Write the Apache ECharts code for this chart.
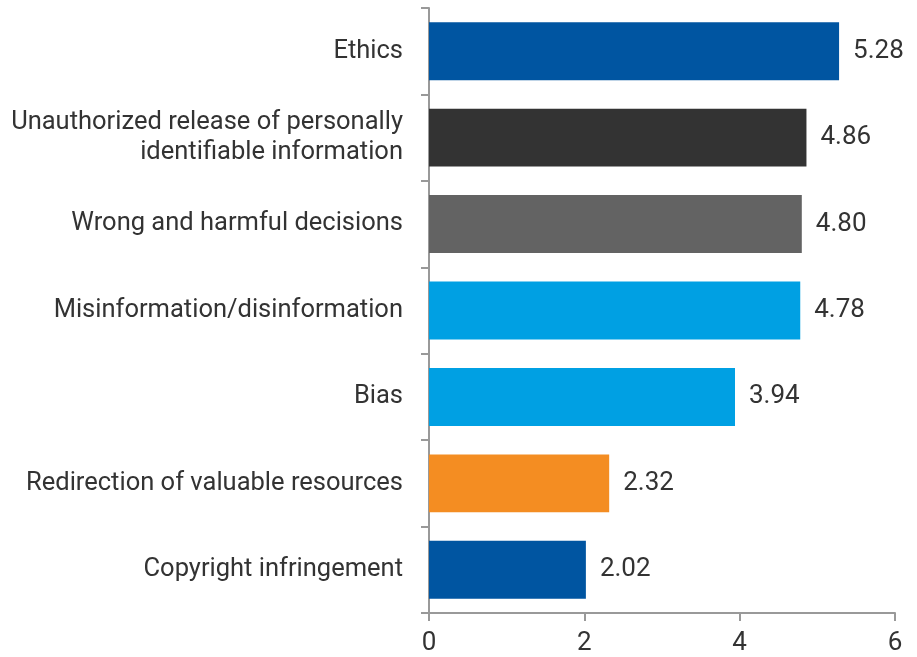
<!DOCTYPE html>
<html>
<head>
<meta charset="utf-8">
<script src="https://cdn.jsdelivr.net/npm/echarts@6/dist/echarts.min.js"></script>
<style>
  html, body { margin: 0; padding: 0; background: #fff; }
  #main { width: 917px; height: 657px; }
</style>
</head>
<body>
<div id="main"></div>
<script>
// data, top to bottom
var categories = [
  'Ethics',
  'Unauthorized release of personally\nidentifiable information',
  'Wrong and harmful decisions',
  'Misinformation/disinformation',
  'Bias',
  'Redirection of valuable resources',
  'Copyright infringement'
];
var values = [5.28, 4.86, 4.80, 4.78, 3.94, 2.32, 2.02];
var barColors = ['#0055a1', '#333333', '#636363', '#00a0e3', '#00a0e3', '#f48d22', '#0055a1'];
var xTicks = [0, 2, 4, 6];

var chart = echarts.init(document.getElementById('main'));
var font = 'Roboto, "Noto Sans", sans-serif';

chart.setOption({
  animation: false,
  grid: { left: 429, right: 22, top: 8, bottom: 44, containLabel: false },
  xAxis: {
    type: 'value',
    min: xTicks[0],
    max: xTicks[xTicks.length - 1],
    interval: 2,
    axisLine: { show: true, lineStyle: { color: '#999', width: 2 } },
    axisTick: { show: true, length: 8, lineStyle: { color: '#999', width: 2 } },
    splitLine: { show: false },
    axisLabel: { color: '#333', fontSize: 26, fontFamily: font, margin: 17 }
  },
  yAxis: {
    type: 'category',
    inverse: true,
    data: categories,
    axisLine: { show: true, lineStyle: { color: '#999', width: 2 } },
    axisTick: { show: true, length: 8, lineStyle: { color: '#999', width: 2 } },
    axisLabel: { color: '#333', fontSize: 25.5, fontFamily: font, margin: 26, align: 'right', lineHeight: 30, padding: [3, 0, 0, 0] }
  },
  series: [{
    type: 'bar',
    barCategoryGap: '33%',
    data: values.map(function (v, i) {
      return { value: v, itemStyle: { color: barColors[i] } };
    }),
    label: {
      show: true,
      position: 'right',
      distance: 14,
      color: '#333',
      fontSize: 26,
      fontFamily: font,
      formatter: function (p) { return p.value.toFixed(2); }
    }
  }]
});
</script>
</body>
</html>
